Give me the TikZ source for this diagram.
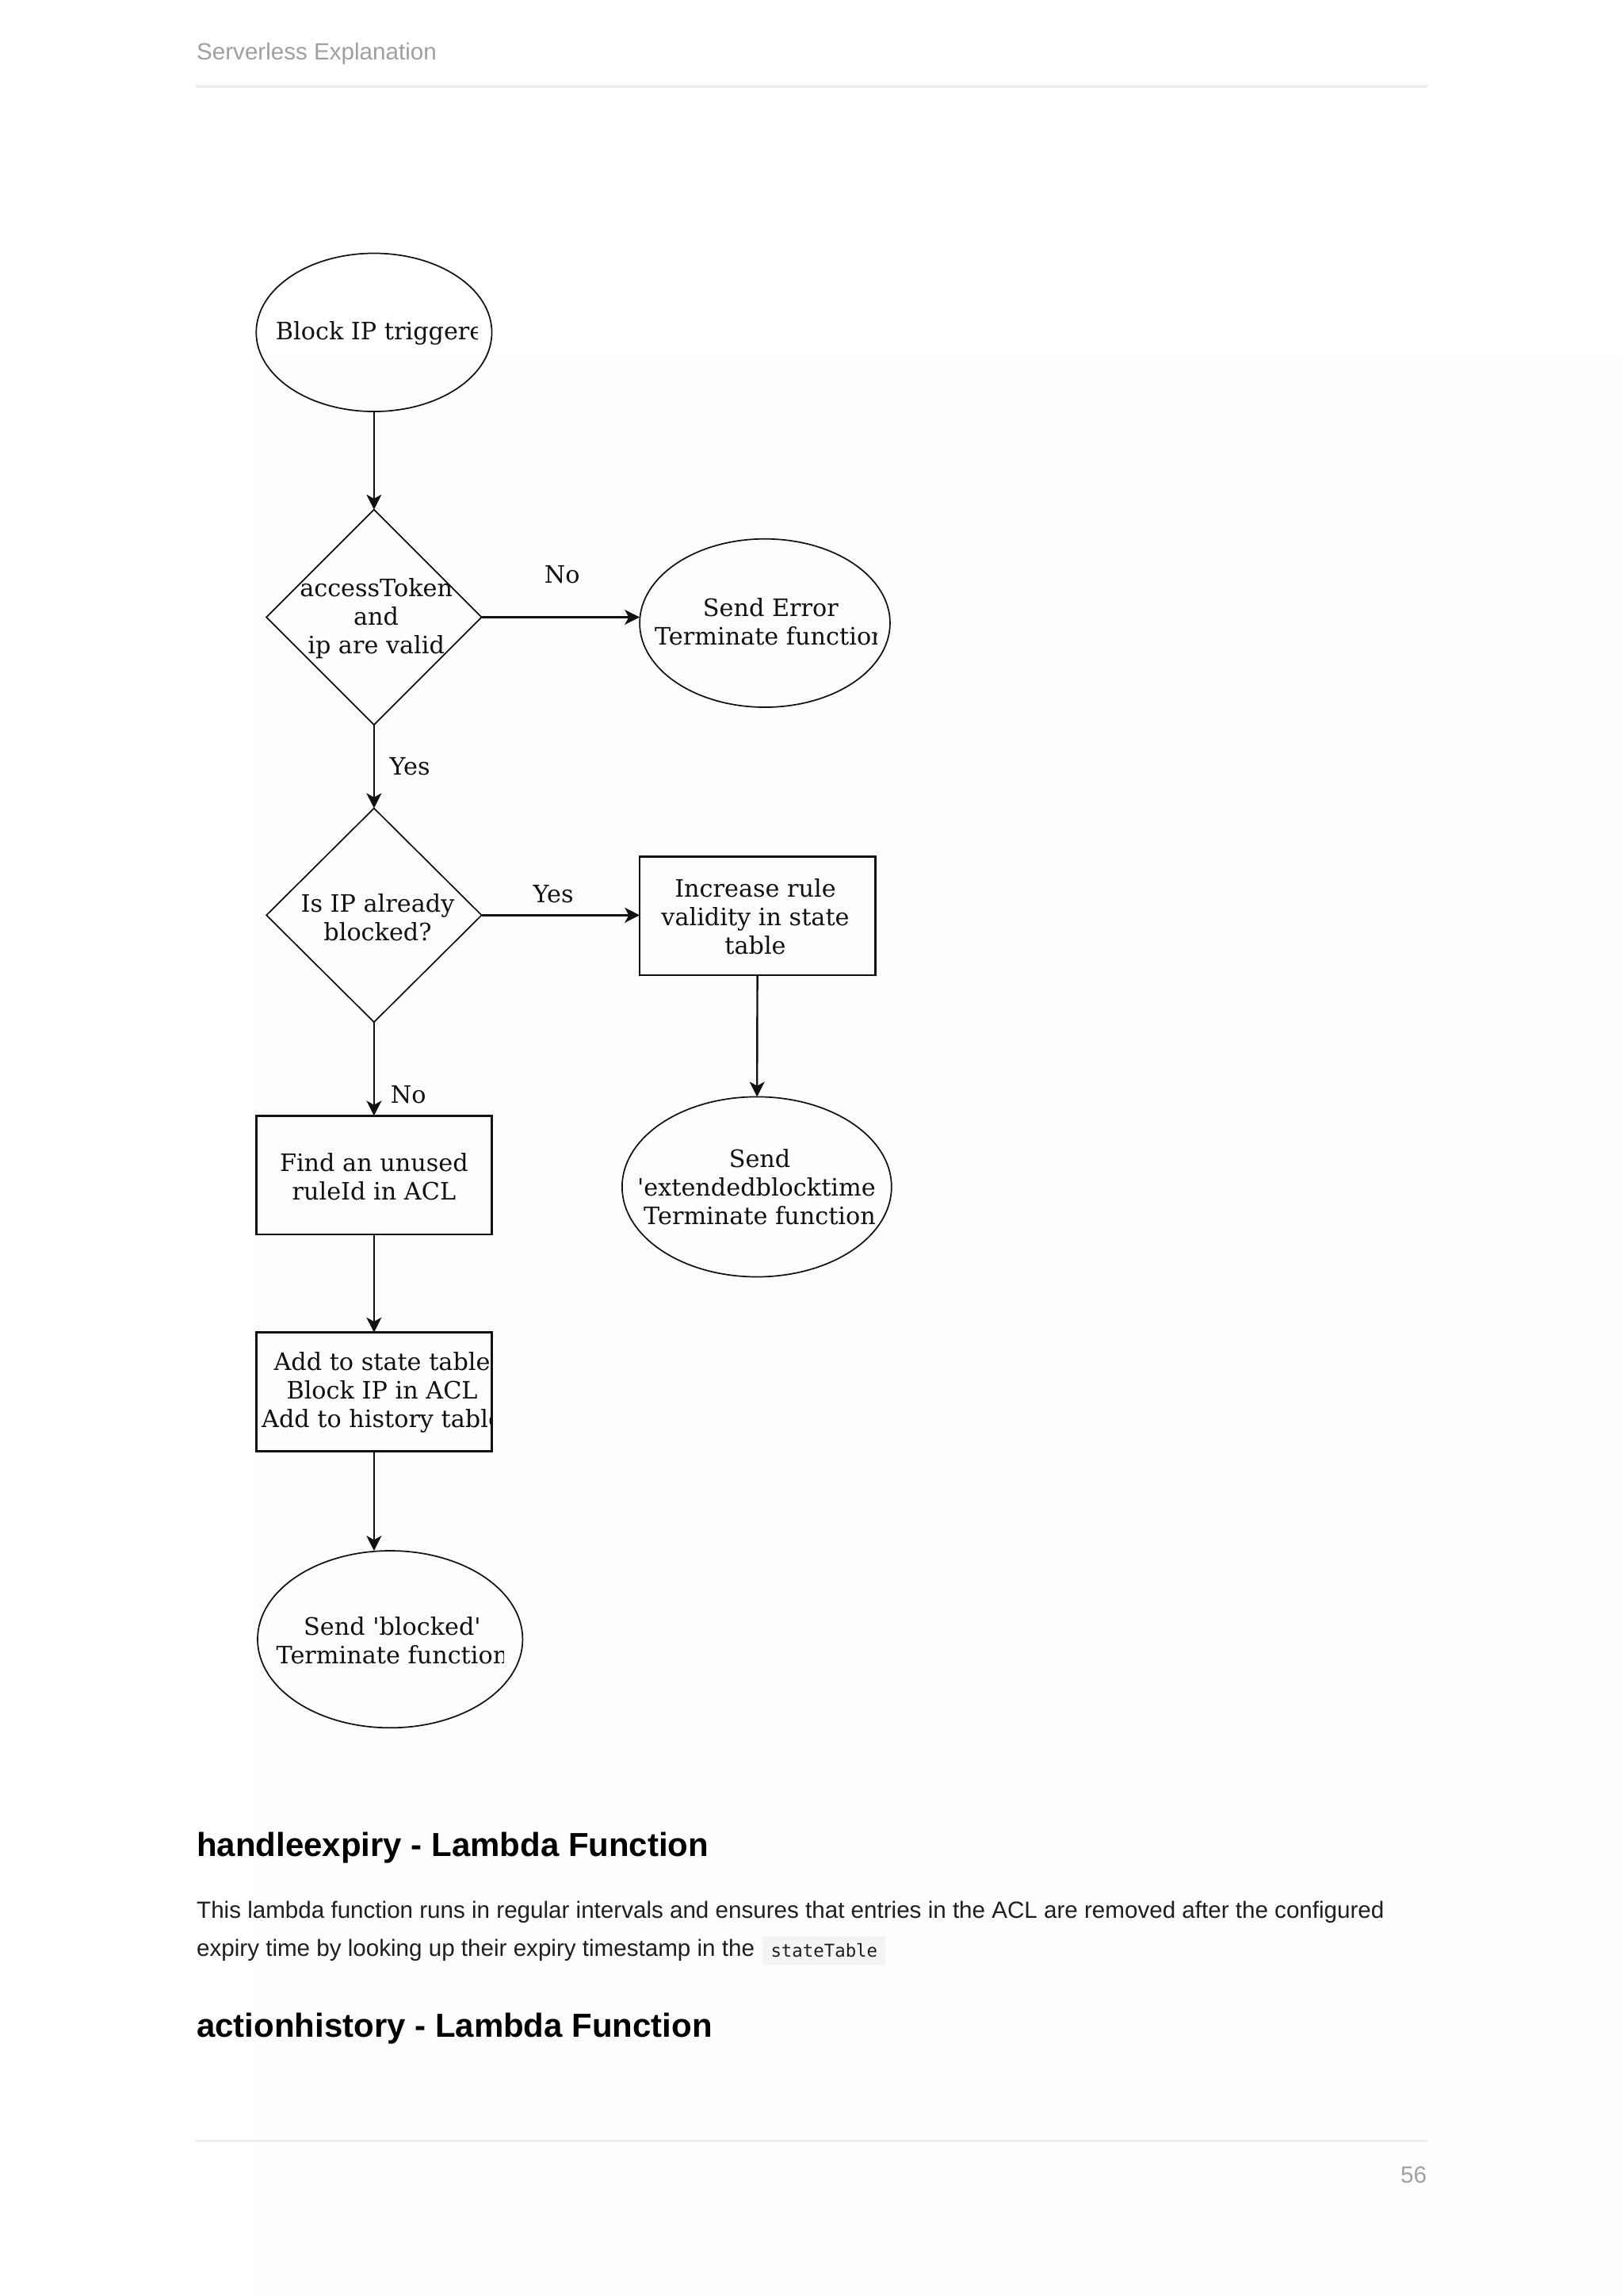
\documentclass[tikz,border=0pt]{standalone}
\usepackage{fontspec}
\usetikzlibrary{shapes.geometric,arrows.meta}
\newfontfamily\dfont{DejaVu Serif}
\newfontfamily\pfont{Liberation Sans}
\newfontfamily\cfont{DejaVu Sans Mono}
\definecolor{ink}{HTML}{111111}
\definecolor{hdr}{HTML}{A0A0A0}
\definecolor{rulec}{HTML}{EEEEEE}
\definecolor{codebg}{HTML}{F4F4F4}
\definecolor{faint}{HTML}{FDFDFD}
\definecolor{bodyc}{HTML}{1F1F1F}
\begin{document}
\begin{tikzpicture}[x=0.53677pt,y=-0.53677pt,
  shp/.style={draw=ink, line width=0.5pt, inner sep=0pt, outer sep=0pt},
  oval/.style={shp, ellipse},
  dia/.style={shp, diamond},
  boxn/.style={shp, rectangle, line width=0.75pt},
  txt/.style={font=\dfont\fontsize{8.8}{10.5}\selectfont, text=ink, align=center, inner sep=0pt},
  arr/.style={draw=ink, line width=0.7pt, -{Stealth[length=5.5pt,width=5.5pt,inset=1.5pt]}},
  pagetxt/.style={font=\pfont\fontsize{8.6}{14}\selectfont, text=bodyc, inner sep=0pt, anchor=base west},
  headtxt/.style={font=\pfont\bfseries\fontsize{12.2}{14}\selectfont, text=black, inner sep=0pt, anchor=base west},
  greytxt/.style={font=\pfont\fontsize{8.6}{10}\selectfont, text=hdr, inner sep=0pt},
]
\useasboundingbox (0,0) rectangle (1109,1568);
\fill[white] (0,0) rectangle (1109,1568);
\fill[faint] (173,242) rectangle (1109,1568);

% page header and footer
\node[greytxt, anchor=base west] (header) at (134,41) {Serverless Explanation};
\draw[rulec, line width=0.9pt] (134,59) -- (975,59);
\draw[rulec, line width=0.9pt] (134,1462) -- (975,1462);
\node[greytxt, anchor=base east] (pagenum) at (975,1491) {56};

% shapes
\node[oval, minimum width=86.4pt, minimum height=58pt] (start) at (255.5,227) {};
\node[dia, minimum width=78.9pt, minimum height=78.9pt] (valid) at (255.5,421.5) {};
\node[oval, minimum width=91.8pt, minimum height=61.7pt] (err) at (522.5,425.5) {};
\node[dia, minimum width=78.9pt, minimum height=78.4pt] (blocked) at (255.5,625) {};
\node[boxn, minimum width=86.4pt, minimum height=43.5pt] (inc) at (517.5,625.5) {};
\node[oval, minimum width=98.8pt, minimum height=66pt] (ext) at (517,810.5) {};
\node[boxn, minimum width=86.4pt, minimum height=43.5pt] (find) at (255.5,802.5) {};
\node[boxn, minimum width=86.4pt, minimum height=43.5pt] (add) at (255.5,950.5) {};
\node[oval, minimum width=97.2pt, minimum height=64.9pt] (sent) at (266.5,1119.5) {};

% texts (clipped where the original is cut off)
\begin{scope}
  \clip (150,150) rectangle (326,300);
  \node[txt, anchor=west] (tstart) at (188,227.5) {Block IP triggered};
\end{scope}
\begin{scope}
  \clip (150,350) rectangle (309,490);
  \node[txt] (tvalid) at (257,422.5) {accessToken\\and\\ip are valid};
\end{scope}
\begin{scope}
  \clip (430,350) rectangle (599,490);
  \node[txt] (terr) at (526.5,424.5) {Send Error\\Terminate function};
\end{scope}
\begin{scope}
  \clip (150,560) rectangle (311,690);
  \node[txt] (tblocked) at (258,626.5) {Is IP already\\blocked?};
\end{scope}
\node[txt] (tinc) at (516,626) {Increase rule\\validity in state\\table};
\begin{scope}
  \clip (420,740) rectangle (598,880);
  \node[txt] (text) at (519,810.5) {Send\\\textquotesingle extendedblocktime\textquotesingle\\Terminate function};
\end{scope}
\node[txt] (tfind) at (255.5,803.5) {Find an unused\\ruleId in ACL};
\begin{scope}
  \clip (170,905) rectangle (335,995);
  \node[txt] (tadd) at (261,951) {Add to state table\\Block IP in ACL\\Add to history table};
\end{scope}
\begin{scope}
  \clip (170,1060) rectangle (344,1180);
  \node[txt] (tsent) at (268,1120.5) {Send \textquotesingle blocked\textquotesingle\\Terminate function};
\end{scope}

% connectors
\draw[arr] (start) -- (valid);
\draw[arr] (valid.east) -- (valid.east -| err.west);
\draw[arr] (valid) -- (blocked);
\draw[arr] (blocked.east) -- (blocked.east -| inc.west);
\draw[arr] (inc) -- (ext);
\draw[arr] (blocked) -- (find);
\draw[arr] (find) -- (add);
\draw[arr] (add.south) -- (add.south |- sent.north);

% connector labels
\node[txt] (lno1) at (384,392.5) {No};
\node[txt] (lyes1) at (280,523.5) {Yes};
\node[txt] (lyes2) at (378,610.5) {Yes};
\node[txt] (lno2) at (279,747.5) {No};

% page text
\node[headtxt] (h1) at (134,1268) {handleexpiry - Lambda Function};
\node[pagetxt] (p1) at (134,1310) {This lambda function runs in regular intervals and ensures that entries in the ACL are removed after the configured};
\node[pagetxt] (p2) at (134,1336) {expiry time by looking up their expiry timestamp in the};
\node[fill=codebg, minimum width=45.1pt, minimum height=10.7pt, inner sep=0pt,
      font=\cfont\fontsize{6.5}{8}\selectfont, text=bodyc] (code) at (563,1332) {stateTable};
\node[headtxt] (h2) at (134,1391) {actionhistory - Lambda Function};
\end{tikzpicture}
\end{document}
